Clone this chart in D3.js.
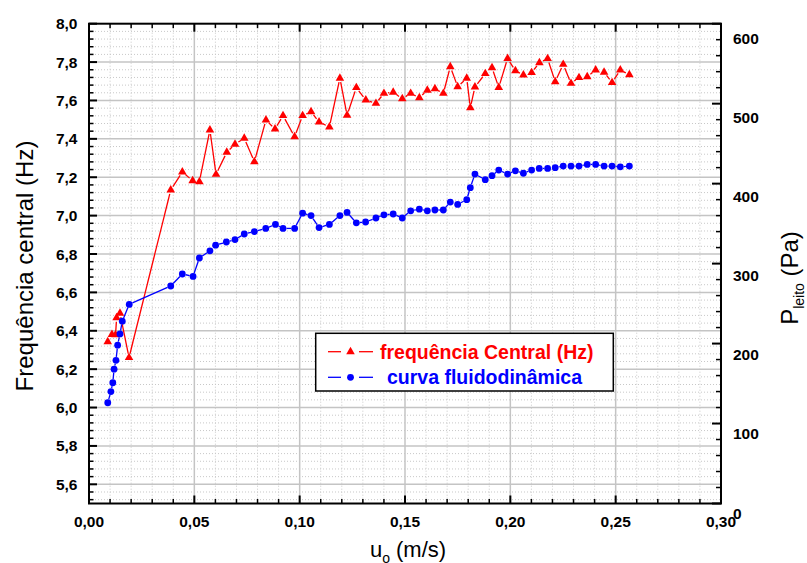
<!DOCTYPE html>
<html><head><meta charset="utf-8">
<script src="https://cdn.jsdelivr.net/npm/d3@7"></script>
<style>body{margin:0;background:#fff}svg{display:block}</style>
</head><body>
<svg id="c" width="807" height="563"></svg>
<script>
// ---- data ----
const uFreq = [0.0089,0.0109,0.0126,0.0131,0.0147,0.0190,0.0388,0.0443,0.0492,0.0524,0.0574,0.0603,0.0654,0.0693,0.0737,0.0785,0.0840,0.0883,0.0921,0.0976,0.1014,0.1054,0.1092,0.1141,0.1191,0.1225,0.1269,0.1314,0.1362,0.1400,0.1444,0.1487,0.1527,0.1568,0.1606,0.1642,0.1682,0.1715,0.1750,0.1793,0.1810,0.1832,0.1881,0.1913,0.1945,0.1987,0.2024,0.2062,0.2101,0.2138,0.2177,0.2213,0.2251,0.2288,0.2326,0.2365,0.2405,0.2445,0.2483,0.2522,0.2565];
const freq = [6.343,6.381,6.379,6.468,6.491,6.260,7.134,7.227,7.182,7.177,7.446,7.215,7.330,7.372,7.403,7.281,7.498,7.451,7.521,7.411,7.521,7.541,7.488,7.462,7.716,7.523,7.667,7.602,7.585,7.637,7.643,7.609,7.637,7.614,7.653,7.661,7.637,7.776,7.672,7.716,7.562,7.670,7.740,7.771,7.668,7.819,7.755,7.733,7.745,7.797,7.818,7.698,7.788,7.689,7.719,7.724,7.759,7.747,7.693,7.759,7.734];
const uPress = [0.0089,0.0104,0.0113,0.0119,0.0128,0.0136,0.0147,0.0158,0.0191,0.0388,0.0443,0.0494,0.0524,0.0574,0.0601,0.0652,0.0693,0.0737,0.0785,0.0839,0.0885,0.0921,0.0976,0.1014,0.1054,0.1092,0.1141,0.1191,0.1225,0.1269,0.1313,0.1362,0.1400,0.1444,0.1487,0.1527,0.1568,0.1606,0.1642,0.1682,0.1715,0.1750,0.1793,0.1810,0.1832,0.1881,0.1913,0.1945,0.1987,0.2024,0.2062,0.2101,0.2137,0.2177,0.2213,0.2251,0.2288,0.2326,0.2365,0.2405,0.2445,0.2483,0.2522,0.2565];
const press = [126,140,151,168,179,198,212,228,249,272,287,284,307,316,323,327,330,337,340,344,349,344,344,363,360,345,349,360,364,351,352,357,361,362,357,366,368,366,367,367,377,374,380,395,412,405,410,417,412,416,413,417,419,419,420,422,422,422,424,424,422,422,421,422];

const xTicks = [0,0.05,0.10,0.15,0.20,0.25,0.30];
const xTickLabels = ["0,00","0,05","0,10","0,15","0,20","0,25","0,30"];
const yLeftTicks = [5.6,5.8,6.0,6.2,6.4,6.6,6.8,7.0,7.2,7.4,7.6,7.8,8.0];
const yLeftTickLabels = ["5,6","5,8","6,0","6,2","6,4","6,6","6,8","7,0","7,2","7,4","7,6","7,8","8,0"];
const yRightTicks = [0,100,200,300,400,500,600];
const yRightTickLabels = ["0","100","200","300","400","500","600"];
const legendLabels = ["frequência Central (Hz)","curva fluidodinâmica"];

// ---- layout ----
const FONT = "'Liberation Sans', Arial, sans-serif";
const L = 89, R = 721, T = 23.7, B = 503.5;
const x = d3.scaleLinear([0,0.30],[L,R]);
const yL = d3.scaleLinear([5.5,8.0],[B,T]);
const yR = d3.scaleLinear([0,600],[B,T]);
const yRLab = d3.scaleLinear([0,600],[513,38.3]);
const RED = "#ff0000", BLUE = "#0000ff";

const svg = d3.select("#c");
svg.append("rect").attr("width",807).attr("height",563).attr("fill","#fff");

// grid
const xMinor = d3.range(1,30).map(i=>+(i*0.01).toFixed(2)).filter(v=>Math.round(v*100)%5!==0);
const yMinor = d3.range(0,63).map(i=>+(5.52+i*0.04).toFixed(2)).filter(v=>v<8.0 && Math.abs(Math.round(v*5)-v*5)>1e-6);
const g = svg.append("g");
g.selectAll(".vm").data(xMinor).join("line")
  .attr("x1",d=>x(d)).attr("x2",d=>x(d)).attr("y1",T).attr("y2",B)
  .attr("stroke","#c8c8c8").attr("stroke-width",1).attr("stroke-dasharray","1,2");
g.selectAll(".hm").data(yMinor).join("line")
  .attr("y1",d=>yL(d)).attr("y2",d=>yL(d)).attr("x1",L).attr("x2",R)
  .attr("stroke","#c8c8c8").attr("stroke-width",1).attr("stroke-dasharray","1,2");
g.selectAll(".vM").data(xTicks.slice(1,-1)).join("line")
  .attr("x1",d=>x(d)).attr("x2",d=>x(d)).attr("y1",T).attr("y2",B)
  .attr("stroke","#c4c4c4").attr("stroke-width",1.5);
g.selectAll(".hM").data(yLeftTicks.slice(0,-1)).join("line")
  .attr("y1",d=>yL(d)).attr("y2",d=>yL(d)).attr("x1",L).attr("x2",R)
  .attr("stroke","#c4c4c4").attr("stroke-width",1.5);

// data lines with gaps around symbols
function gapLines(sel, pts, color, gap){
  const segs=[];
  for(let i=0;i<pts.length-1;i++){
    const [x1,y1]=pts[i],[x2,y2]=pts[i+1];
    const dx=x2-x1, dy=y2-y1, len=Math.hypot(dx,dy);
    if(len>2*gap+1){
      const ux=dx/len, uy=dy/len;
      segs.push([x1+ux*gap,y1+uy*gap,x2-ux*gap,y2-uy*gap]);
    }
  }
  sel.selectAll(null).data(segs).join("line")
    .attr("x1",d=>d[0]).attr("y1",d=>d[1]).attr("x2",d=>d[2]).attr("y2",d=>d[3])
    .attr("stroke",color).attr("stroke-width",1.3);
}
const redPts = uFreq.map((u,i)=>[x(u),yL(freq[i])]);
const bluePts = uPress.map((u,i)=>[x(u),yR(press[i])]);
const dl = svg.append("g");
gapLines(dl, redPts, RED, 4);
gapLines(dl, bluePts, BLUE, 3.5);
const tri = d3.symbol(d3.symbolTriangle, 32);
dl.selectAll(".tri").data(redPts).join("path")
  .attr("d",tri).attr("transform",d=>`translate(${d[0]},${d[1]})`).attr("fill",RED);
dl.selectAll(".dot").data(bluePts).join("circle")
  .attr("cx",d=>d[0]).attr("cy",d=>d[1]).attr("r",3.4).attr("fill",BLUE);

// frame
svg.append("rect").attr("x",L).attr("y",T).attr("width",R-L).attr("height",B-T)
  .attr("fill","none").attr("stroke","#000").attr("stroke-width",2);

// axes (ticks inside)
const ax = svg.append("g").attr("stroke","#000");
ax.selectAll(".xbM").data(xTicks).join("line").attr("x1",d=>x(d)).attr("x2",d=>x(d)).attr("y1",B).attr("y2",B-8).attr("stroke-width",2);
ax.selectAll(".xbm").data(xMinor).join("line").attr("x1",d=>x(d)).attr("x2",d=>x(d)).attr("y1",B).attr("y2",B-4.5).attr("stroke-width",1.5);
ax.selectAll(".xtM").data(xTicks).join("line").attr("x1",d=>x(d)).attr("x2",d=>x(d)).attr("y1",T).attr("y2",T+8).attr("stroke-width",2);
ax.selectAll(".xtm").data(xMinor).join("line").attr("x1",d=>x(d)).attr("x2",d=>x(d)).attr("y1",T).attr("y2",T+4.5).attr("stroke-width",1.5);
ax.selectAll(".ylM").data(yLeftTicks).join("line").attr("y1",d=>yL(d)).attr("y2",d=>yL(d)).attr("x1",L).attr("x2",L+8).attr("stroke-width",2);
ax.selectAll(".ylm").data(yMinor).join("line").attr("y1",d=>yL(d)).attr("y2",d=>yL(d)).attr("x1",L).attr("x2",L+4.5).attr("stroke-width",1.5);
const rMinor = d3.range(20,600,20).filter(v=>v%100!==0);
ax.selectAll(".yrM").data(yRightTicks).join("line").attr("y1",d=>yR(d)).attr("y2",d=>yR(d)).attr("x1",R).attr("x2",R-9).attr("stroke-width",2);
ax.selectAll(".yrm").data(rMinor).join("line").attr("y1",d=>yR(d)).attr("y2",d=>yR(d)).attr("x1",R).attr("x2",R-5).attr("stroke-width",1.5);

// tick labels
const tl = svg.append("g").attr("font-family",FONT).attr("font-weight","bold").attr("font-size",15.5).attr("fill","#000");
tl.selectAll(".xl").data(xTicks).join("text").attr("x",d=>x(d)).attr("y",527).attr("text-anchor","middle")
  .text((d,i)=>xTickLabels[i]);
tl.selectAll(".yll").data(yLeftTicks).join("text").attr("x",77.5).attr("y",d=>yL(d)+5.5).attr("text-anchor","end")
  .text((d,i)=>yLeftTickLabels[i]);
tl.selectAll(".yrl").data(yRightTicks).join("text").attr("x",733).attr("y",d=>yRLab(d)+5.5).attr("text-anchor","start")
  .text((d,i)=>yRightTickLabels[i]);

// axis titles
const tf = {"font-family":FONT,"font-size":22,"fill":"#000"};
const xt = svg.append("text").attr("x",408).attr("y",557).attr("text-anchor","middle");
Object.entries(tf).forEach(([k,v])=>xt.attr(k,v));
xt.append("tspan").text("u");
xt.append("tspan").attr("font-size",14).attr("dy",6).text("o");
xt.append("tspan").attr("dy",-6).text(" (m/s)");

const yt = svg.append("text").attr("transform","translate(33,266) rotate(-90)").attr("text-anchor","middle");
Object.entries(tf).forEach(([k,v])=>yt.attr(k,v));
yt.attr("font-size",24).text("Frequência central (Hz)");

const rt = svg.append("text").attr("transform","translate(798,278) rotate(-90)").attr("text-anchor","middle");
Object.entries(tf).forEach(([k,v])=>rt.attr(k,v));
rt.attr("font-size",24);
rt.append("tspan").text("P");
rt.append("tspan").attr("font-size",14).attr("dy",6).text("leito");
rt.append("tspan").attr("dy",-6).text(" (Pa)");

// legend
const lg = svg.append("g");
lg.append("rect").attr("x",315.7).attr("y",333.3).attr("width",297.6).attr("height",57.7)
  .attr("fill","#fff").attr("stroke","#000").attr("stroke-width",1.5);
const rows = [{c:RED,y:351.7,tx:380,sym:"tri"},{c:BLUE,y:377.3,tx:387,sym:"dot"}];
rows.forEach((r,i)=>{
  lg.append("line").attr("x1",328).attr("x2",341).attr("y1",r.y).attr("y2",r.y).attr("stroke",r.c).attr("stroke-width",1.3);
  lg.append("line").attr("x1",359).attr("x2",373).attr("y1",r.y).attr("y2",r.y).attr("stroke",r.c).attr("stroke-width",1.3);
  if(r.sym==="tri") lg.append("path").attr("d",tri).attr("transform",`translate(350.5,${r.y})`).attr("fill",r.c);
  else lg.append("circle").attr("cx",350.5).attr("cy",r.y).attr("r",3.4).attr("fill",r.c);
  lg.append("text").attr("x",r.tx).attr("y",r.y+6.8).attr("font-family",FONT).attr("font-weight","bold")
    .attr("font-size",19.5).attr("fill",r.c).text(legendLabels[i]);
});
</script>
</body></html>
